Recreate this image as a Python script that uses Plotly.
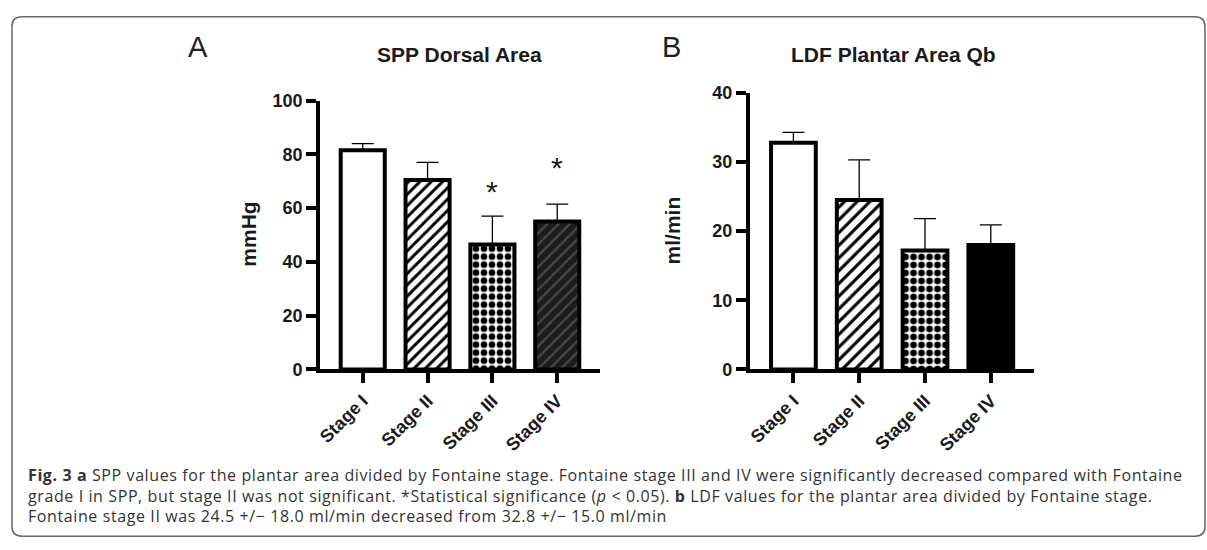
import plotly.graph_objects as go

W, H = 1207, 550

stages = ["Stage I", "Stage II", "Stage III", "Stage IV"]
spp_mean = [81.5, 70.5, 46.5, 55.0]
spp_err = [2.5, 6.5, 10.5, 6.5]
spp_sig = ["", "", "*", "*"]
spp_sig_level = [None, None, 66, 75]
ldf_mean = [32.8, 24.5, 17.2, 18.0]
ldf_err = [1.5, 5.8, 4.6, 2.9]
spp_ticks = [0, 20, 40, 60, 80, 100]
ldf_ticks = [0, 10, 20, 30, 40]

def px(x):
    return x / W

def py(y):
    return 1 - y / H

FONT = "Liberation Sans"
TXT = "#1a1a1a"

# per-stage fill styles (color, pattern shape, pattern fg, pattern size, solidity)
style_a = [("white", "", "black", 8, 0.3),
           ("white", "/", "black", 8, 0.36),
           ("white", ".", "black", 8, 0.55),
           ("#1c1c1c", "/", "#474747", 8, 0.3)]
style_b = [("white", "", "black", 8, 0.3),
           ("white", "/", "black", 9, 0.34),
           ("white", ".", "black", 8, 0.55),
           ("black", "", "black", 8, 0.3)]

fig = go.Figure()

def add_bars(means, errs, styles, xa, ya):
    for st, m, e, (col, shp, fg, sz, sol) in zip(stages, means, errs, styles):
        marker = dict(color=col, line=dict(color="black", width=4))
        if shp:
            marker["pattern"] = dict(shape=shp, fgcolor=fg, fgopacity=1, size=sz,
                                     solidity=sol, fillmode="overlay")
        fig.add_trace(go.Bar(
            x=[st], y=[m], xaxis=xa, yaxis=ya, width=0.68, marker=marker,
            error_y=dict(type="data", symmetric=False, array=[e], arrayminus=[0],
                         color="black", thickness=1.3, width=11),
            showlegend=False,
        ))

add_bars(spp_mean, spp_err, style_a, "x", "y")
add_bars(ldf_mean, ldf_err, style_b, "x2", "y2")

axis_common = dict(showline=True, linecolor="black", linewidth=3.5, ticks="outside",
                   ticklen=10, tickwidth=3.5, tickcolor="black", showgrid=False,
                   zeroline=False,
                   tickfont=dict(family=FONT, size=18, color=TXT, weight="bold"))

fig.update_layout(
    width=W, height=H, margin=dict(l=0, r=0, t=0, b=0), barmode="overlay",
    paper_bgcolor="white", plot_bgcolor="rgba(0,0,0,0)",
    xaxis=dict(domain=[px(317), px(598)], range=[-0.66, 3.66], anchor="y",
               tickangle=-45, **axis_common),
    yaxis=dict(domain=[py(373), py(94)], range=[0, 100], anchor="x",
               tickvals=spp_ticks, **axis_common),
    xaxis2=dict(domain=[px(748), px(1033)], range=[-0.667, 3.65], anchor="y2",
                tickangle=-45, **axis_common),
    yaxis2=dict(domain=[py(373), py(86)], range=[0, 40], anchor="x2",
                tickvals=ldf_ticks, **axis_common),
)

ann = []

def lab(text, x, y, size, weight="normal", angle=0, color=TXT):
    ann.append(dict(text=text, x=px(x), y=py(y), xref="paper", yref="paper",
                    xanchor="center", yanchor="middle", showarrow=False, textangle=angle,
                    font=dict(family=FONT, size=size, color=color, weight=weight)))

lab("A", 195, 38, 29, color="#222")
lab("B", 670, 38, 29, color="#222")
lab("SPP Dorsal Area", 457, 46, 21, "bold")
lab("LDF Plantar Area Qb", 892, 46, 21, "bold")
lab("mmHg", 245, 233, 21, "bold", -90)
lab("ml/min", 671, 229, 21, "bold", -90)

for s, lvl, st in zip(spp_sig, spp_sig_level, stages):
    if s:
        ann.append(dict(text=s, x=st, y=lvl, xref="x", yref="y", showarrow=False,
                        xanchor="center", yanchor="middle",
                        font=dict(family=FONT, size=30, color=TXT)))

CAP = "Open Sans"
cap_lines = [
    "<b>Fig. 3 a</b> SPP values for the plantar area divided by Fontaine stage. Fontaine stage III and IV were significantly decreased compared with Fontaine",
    "grade I in SPP, but stage II was not significant. *Statistical significance (<i>p</i> &lt; 0.05). <b>b</b> LDF values for the plantar area divided by Fontaine stage.",
    "Fontaine stage II was 24.5 +/− 18.0 ml/min decreased from 32.8 +/− 15.0 ml/min",
]
for i, line in enumerate(cap_lines):
    ann.append(dict(text=f'<span style="letter-spacing:0.6px">{line}</span>',
                    x=px(22), y=py(483 + 21 * i), xref="paper", yref="paper",
                    xanchor="left", yanchor="middle", showarrow=False,
                    font=dict(family=CAP, size=16, color="#333")))
fig.update_layout(annotations=ann)

x0, y0, x1, y1, r = px(8), py(7), px(1205), py(546), 10
rx, ry = r / W, r / H
path = (f"M {x0+rx},{y0} L {x1-rx},{y0} Q {x1},{y0} {x1},{y0-ry} "
        f"L {x1},{y1+ry} Q {x1},{y1} {x1-rx},{y1} L {x0+rx},{y1} Q {x0},{y1} {x0},{y1+ry} "
        f"L {x0},{y0-ry} Q {x0},{y0} {x0+rx},{y0} Z")
fig.add_shape(type="path", path=path, xref="paper", yref="paper",
              line=dict(color="#666", width=1.5), fillcolor="rgba(0,0,0,0)", layer="below")

fig.write_html("out.html")
